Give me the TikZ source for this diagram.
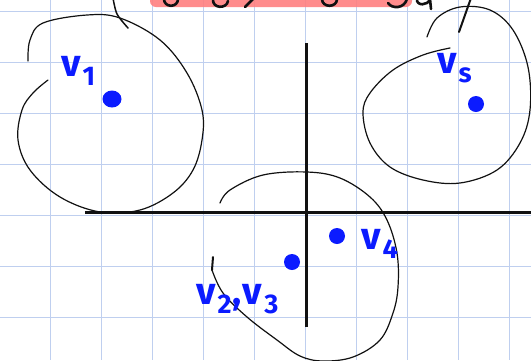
\documentclass[tikz,border=0pt]{standalone}
\usepackage{fontspec}
\setsansfont{Fira Sans}
\usepackage{tikz}
\usetikzlibrary{positioning,shapes.geometric}
\definecolor{cGrid}{HTML}{BFCFEF}
\definecolor{cPen} {HTML}{0B1BFF}
\definecolor{cHi}  {HTML}{FF8080}
\definecolor{cInk} {HTML}{111111}
\tikzset{
  grd/.style  ={draw=cGrid,line width=1.3pt},
  blob/.style ={draw=cInk,line width=1.2pt,line cap=round,line join=round},
  axs/.style  ={draw=cInk,line width=3pt},
  tail/.style ={draw=cInk,line width=2pt,line cap=round},
  dot/.style  ={circle,fill=cPen,inner sep=0pt,minimum size=16pt},
  lbl/.style  ={text=cPen,font=\sffamily\bfseries\fontsize{38}{38}\selectfont,
                inner sep=0pt,anchor=base west},
}
\newcommand{\vsub}[1]{v\kern2pt\raisebox{-9pt}{\fontsize{27}{27}\selectfont #1}}

\begin{document}
\begin{tikzpicture}[x=1pt,y=-1pt]
\useasboundingbox (0,0) rectangle (531,360);
\fill[white] (0,0) rectangle (531,360);
\clip (0,0) rectangle (531,360);

% squared paper
\foreach \i in {0,...,9}{\draw[grd] (50.5+51*\i,0) -- ++(0,360);}
\foreach \j in {0,...,6}{\draw[grd] (0,11.5+51*\j) -- ++(531,0);}

% highlighted heading, cut off at the top
\fill[cHi,opacity=0.9,rounded corners=6pt] (150,-12) rectangle (412,7);
\draw[tail,line width=2.6pt] (164,-1) .. controls (164,8) and (178,8) .. (178,-1);
\draw[tail,line width=2.6pt] (213,-1) .. controls (212,9) and (227,9) .. (228,1);
\draw[tail,line width=2.6pt] (253,-1) -- (245,7);
\draw[tail,line width=2.6pt] (322,-1) .. controls (322,8) and (337,8) .. (337,-1);
\draw[tail,line width=2.6pt] (388,3) .. controls (392,9) and (404,9) .. (407,-1);
\draw[tail,line width=2.6pt] (417,-1) .. controls (416,6) and (428,6) .. (430,-1) -- (431,9);

% axes
\coordinate (xa) at (85,212);  \coordinate (xb) at (531,212);
\coordinate (ya) at (306,43);  \coordinate (yb) at (306,327);
\draw[axs] (xa) -- (xb);
\draw[axs] (ya) -- (yb);

% regions
\draw[blob] plot[smooth,tension=0.6] coordinates {(28,61) (30,40) (43,23) (87,15)
  (120,18) (160,40) (187,73) (202,110) (202,140) (193,170) (173,193) (140,210)
  (100,212) (60,197) (30,170) (18,140) (22,110) (33,93) (48,80)};
\draw[tail,line width=1.5pt] plot[smooth] coordinates {(113,-2) (117,14) (128,28)};

\draw[blob] plot[smooth,tension=0.6] coordinates {(427,37) (437,18) (460,7) (490,10)
  (513,30) (528,67) (530,110) (520,143) (497,170) (460,183) (423,180) (390,167)
  (370,143) (363,113) (370,93) (393,70) (423,55) (450,48)};
\draw[tail] (471,-2) -- (459,32);

\draw[blob] plot[smooth,tension=0.6] coordinates {(220,203) (230,190) (263,175)
  (307,172) (340,178) (370,197) (387,220) (397,253) (398,287) (393,313) (380,340)
  (353,357) (323,361) (300,356) (277,340) (247,317) (223,293) (212,270)};
\draw[tail] (212,270) -- (213,257);

% points and names
\node[dot,minimum width=19pt,minimum height=17pt,ellipse] (p1) at (112,99) {};
\node[dot] (p5) at (476,104) {};
\node[dot] (p4) at (337,236) {};
\node[dot] (p23) at (292,262) {};

\node[lbl] (l1)  at (61,76)   {\vsub{1}};
\node[lbl] (l5)  at (437,73)  {\vsub{s}};
\node[lbl] (l4)  at (361,249) {\vsub{4}};
\node[lbl] (l23) at (196,304) {\vsub{2}\kern1pt,\kern1pt\vsub{3}};
\end{tikzpicture}
\end{document}
